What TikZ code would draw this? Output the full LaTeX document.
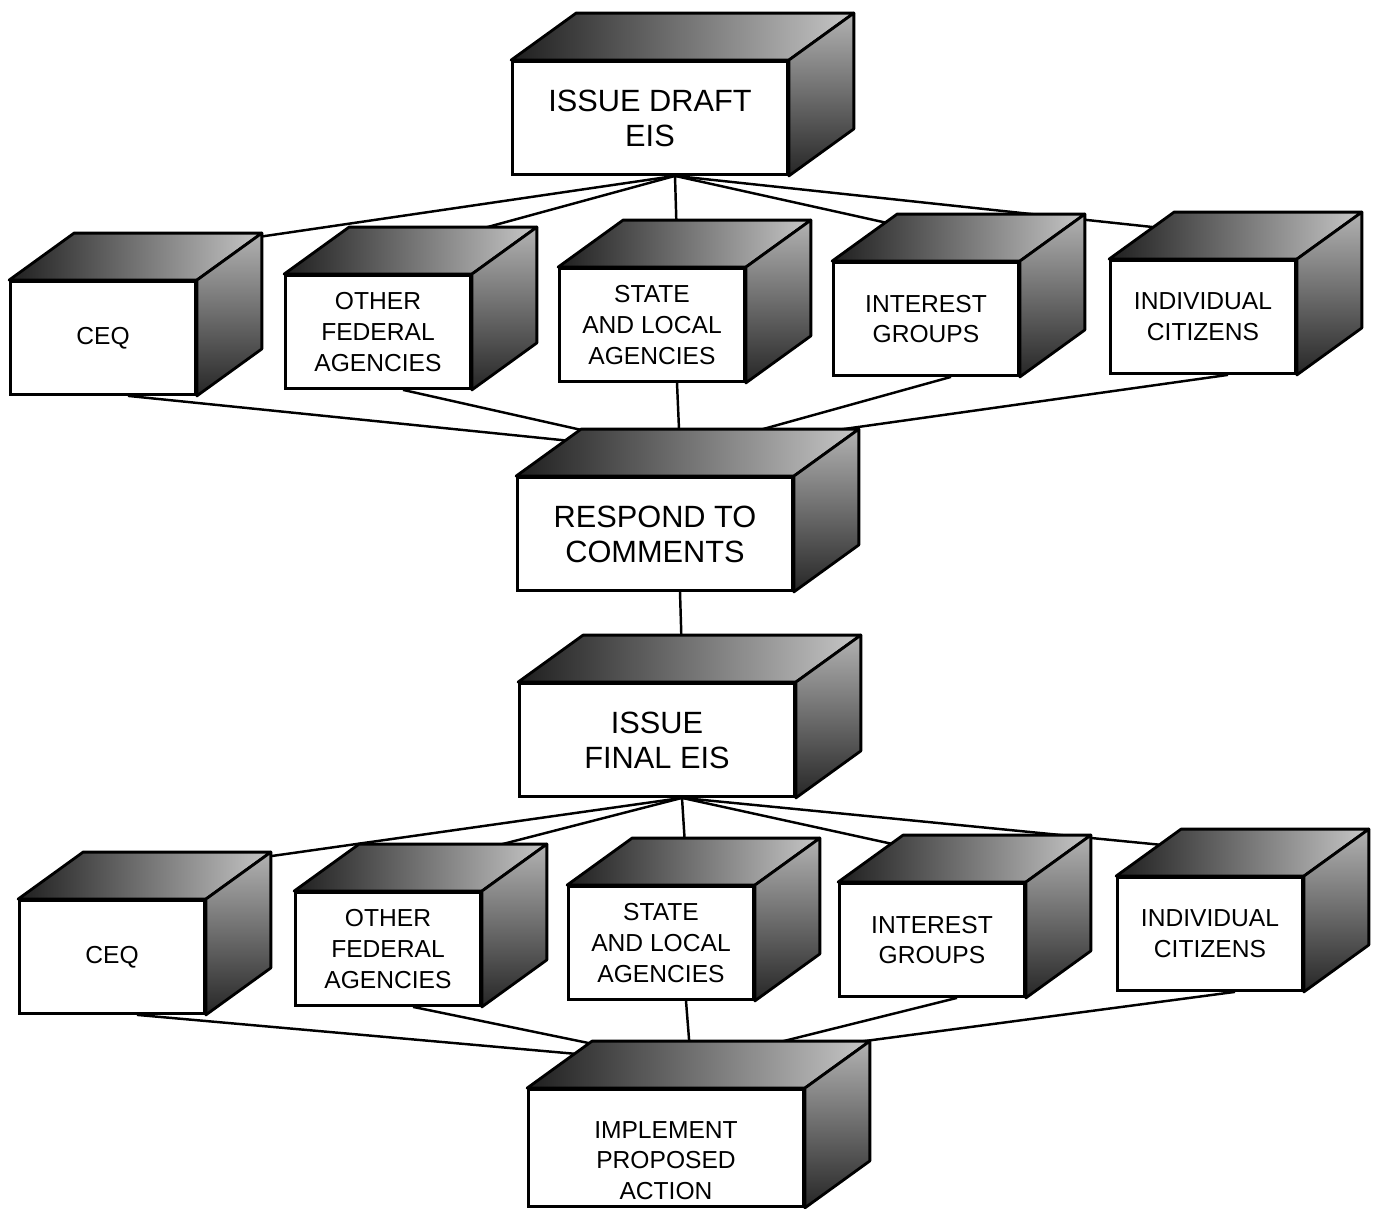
\documentclass[tikz,border=0pt]{standalone}
\usepackage{fontspec}
\setmainfont{Liberation Sans}
\usetikzlibrary{calc,backgrounds}

\begin{document}
\begin{tikzpicture}[
      x=0.02cm,
      y=-0.02cm,
      cube/.style={draw, fill=white, line width=1.6pt, align=center, font=\fontsize{14}{17.5}\selectfont, minimum width=3.7cm, minimum height=2.26cm, inner sep=2pt},
      bigcube/.style={cube, font=\fontsize{17.5}{20}\selectfont, minimum width=5.5cm},
      topface/.style={draw, line width=1.6pt, line join=round, left color=black!88, right color=black!22},
      sideface/.style={draw, line width=1.6pt, line join=round, top color=black!30, bottom color=black!85},
      link/.style={line width=1.4pt}
  ]
  % Pixel grid: x to the right, y downwards
  \useasboundingbox (0,0) rectangle (1384,1209);

  % --- Draft EIS ---
  \node[bigcube] (draft) at (650,118) {ISSUE DRAFT\\EIS};

  % --- First round of reviewers ---
  \node[cube] (ceqA)   at (103,338)  {CEQ};
  \node[cube] (fedA)   at (378,332)  {OTHER\\FEDERAL\\AGENCIES};
  \node[cube] (stateA) at (652,325)  {STATE\\AND LOCAL\\AGENCIES};
  \node[cube] (groupA) at (926,319)  {INTEREST\\GROUPS};
  \node[cube] (citA)   at (1203,317) {INDIVIDUAL\\CITIZENS};

  % --- Responses and final EIS ---
  \node[bigcube] (respond) at (655,534) {RESPOND TO\\COMMENTS};
  \node[bigcube] (final)   at (657,740) {ISSUE\\FINAL EIS};

  % --- Second round of reviewers ---
  \node[cube] (ceqB)   at (112,957)  {CEQ};
  \node[cube] (fedB)   at (388,949)  {OTHER\\FEDERAL\\AGENCIES};
  \node[cube] (stateB) at (661,943)  {STATE\\AND LOCAL\\AGENCIES};
  \node[cube] (groupB) at (932,940)  {INTEREST\\GROUPS};
  \node[cube] (citB)   at (1210,934) {INDIVIDUAL\\CITIZENS};

  % text sits low in this box
  \node[bigcube, font=\fontsize{14}{17.5}\selectfont, minimum height=2.34cm] (implement) at (666,1148) {\rule{0pt}{24pt}IMPLEMENT\\PROPOSED\\ACTION};

  % Top and side faces of every box, plus link points
  \foreach \n in {draft,ceqA,fedA,stateA,groupA,citA,respond,final,ceqB,fedB,stateB,groupB,citB,implement} {
    \filldraw[topface] (\n.north west) -- ++(65,-47) -- ($(\n.north east)+(65,-47)$) -- (\n.north east) -- cycle;
    \filldraw[sideface] (\n.north east) -- ++(65,-47) -- ($(\n.south east)+(65,-47)$) -- (\n.south east) -- cycle;
    \coordinate (\n-t) at ($(\n.north)+(25,-24)$);
    \coordinate (\n-b) at ($(\n.south)+(25,0)$);
  }

  % --- Connectors (behind the boxes) ---
  \begin{scope}[on background layer]
    \foreach \n in {ceqA,fedA,stateA,groupA,citA} {
      \draw[link] (draft-b) -- (\n-t);
      \draw[link] (\n-b) -- (respond-t);
    }
    \draw[link] (respond-b) -- (final-t);
    \foreach \n in {ceqB,fedB,stateB,groupB,citB} {
      \draw[link] (final-b) -- (\n-t);
      \draw[link] (\n-b) -- (implement-t);
    }
  \end{scope}

\end{tikzpicture}
\end{document}
